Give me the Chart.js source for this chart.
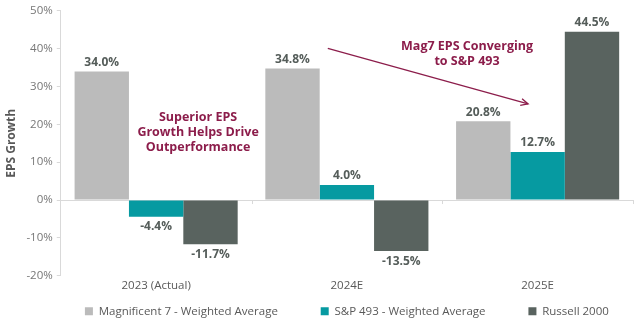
<!DOCTYPE html>
<html>
<head>
<meta charset="utf-8">
<script src="https://cdn.jsdelivr.net/npm/chart.js@4"></script>
<style>
  html, body { margin: 0; padding: 0; background: #fff; }
  #wrap { width: 640px; height: 321px; }
</style>
</head>
<body>
<div id="wrap"><canvas id="epsChart"></canvas></div>
<script>
var years = ["2023 (Actual)", "2024E", "2025E"];
// EPS growth, %
var mag7 = [34.0, 34.8, 20.8];
var sp493 = [-4.4, 4.0, 12.7];
var russell = [-11.7, -13.5, 44.5];
var yTicks = [-20, -10, 0, 10, 20, 30, 40, 50];

var FONT = "'Open Sans', 'Noto Sans', sans-serif";
var MAROON = "#8c1d4b";

// value labels over / under each bar
var barLabels = {
  id: 'barLabels',
  afterDatasetsDraw: function(chart) {
    var ctx = chart.ctx;
    ctx.save();
    ctx.font = "bold 12px " + FONT;
    ctx.fillStyle = "#555d5a";
    ctx.textAlign = "center";
    chart.data.datasets.forEach(function(ds, i) {
      chart.getDatasetMeta(i).data.forEach(function(bar, j) {
        var v = ds.data[j];
        var txt = v.toFixed(1) + "%";
        if (v >= 0) {
          ctx.textBaseline = "bottom";
          ctx.fillText(txt, bar.x, bar.y - 3);
        } else {
          ctx.textBaseline = "top";
          ctx.fillText(txt, bar.x, bar.y + 4);
        }
      });
    });
    ctx.restore();
  }
};

// zero line ticks + callouts
var callouts = {
  id: 'callouts',
  afterDraw: function(chart) {
    var ctx = chart.ctx;
    var x = chart.scales.x, y = chart.scales.y;
    var y0 = y.getPixelForValue(0);
    ctx.save();
    ctx.strokeStyle = "#d9d9d9";
    ctx.lineWidth = 1;
    for (var k = 1; k <= years.length; k++) {
      var px = Math.round(x.getPixelForValue(k - 0.5)) + 0.5;
      ctx.beginPath();
      ctx.moveTo(px, y0);
      ctx.lineTo(px, y0 + 4);
      ctx.stroke();
    }

    ctx.fillStyle = MAROON;
    ctx.font = "bold 12.5px " + FONT;
    ctx.textAlign = "center";
    ctx.textBaseline = "middle";
    var cx = x.getPixelForValue(0.22), cy = y.getPixelForValue(18);
    ["Superior EPS", "Growth Helps Drive", "Outperformance"].forEach(function(t, i) {
      ctx.fillText(t, cx, cy + (i - 1) * 15);
    });
    cx = x.getPixelForValue(1.63); cy = y.getPixelForValue(38.6);
    ["Mag7 EPS Converging", "to S&P 493"].forEach(function(t, i) {
      ctx.fillText(t, cx, cy + (i - 0.5) * 15);
    });

    // arrow
    var x1 = x.getPixelForValue(0.90), y1 = y.getPixelForValue(40.1);
    var x2 = x.getPixelForValue(1.95), y2 = y.getPixelForValue(25.4);
    ctx.strokeStyle = MAROON;
    ctx.lineWidth = 1.3;
    ctx.beginPath();
    ctx.moveTo(x1, y1);
    ctx.lineTo(x2, y2);
    ctx.stroke();
    var a = Math.atan2(y2 - y1, x2 - x1), h = 8;
    ctx.beginPath();
    ctx.moveTo(x2 - h * Math.cos(a - 0.45), y2 - h * Math.sin(a - 0.45));
    ctx.lineTo(x2, y2);
    ctx.lineTo(x2 - h * Math.cos(a + 0.45), y2 - h * Math.sin(a + 0.45));
    ctx.stroke();
    ctx.restore();
  }
};

var ctx = document.getElementById("epsChart");
var epsChart = new Chart(ctx, {
  type: 'bar',
  data: {
    labels: years,
    datasets: [
      { label: "Magnificent 7 - Weighted Average", data: mag7, backgroundColor: "#bbbbbb" },
      { label: "S&P 493 - Weighted Average", data: sp493, backgroundColor: "#069aa1" },
      { label: "Russell 2000", data: russell, backgroundColor: "#59635f" }
    ]
  },
  options: {
    responsive: true,
    maintainAspectRatio: false,
    animation: false,
    devicePixelRatio: 1,
    layout: { padding: { top: 3, right: 7, left: 4, bottom: -6 } },
    datasets: { bar: { barPercentage: 1.0, categoryPercentage: 0.855 } },
    plugins: {
      legend: {
        position: 'bottom',
        fullSize: false,
        labels: {
          boxWidth: 8, boxHeight: 8, padding: 10,
          color: "#595959",
          font: { family: FONT, size: 11.5 },
          generateLabels: function(chart) {
            var items = Chart.defaults.plugins.legend.labels.generateLabels(chart);
            // extra room between legend entries
            items.forEach(function(it, i) {
              if (i < items.length - 1) it.text = it.text + "           ";
            });
            return items;
          }
        }
      },
      tooltip: { enabled: false }
    },
    scales: {
      x: {
        grid: { display: false, drawTicks: false },
        border: { display: false },
        ticks: { color: "#595959", font: { family: FONT, size: 11.5 }, padding: 3 }
      },
      y: {
        min: -20, max: 50,
        afterBuildTicks: function(s) { s.ticks = yTicks.map(function(v) { return { value: v }; }); },
        ticks: {
          color: "#777777",
          font: { family: FONT, size: 11.5 },
          padding: 4,
          callback: function(v) { return v + "%"; }
        },
        grid: {
          tickLength: 4,
          tickColor: "#d9d9d9",
          color: function(c) { return c.tick && c.tick.value === 0 ? "#d9d9d9" : "rgba(0,0,0,0)"; }
        },
        border: { color: "#d9d9d9" },
        title: {
          display: true,
          text: "EPS Growth",
          color: "#595959",
          font: { family: FONT, size: 12, weight: 'bold' },
          padding: { top: 0, bottom: 4 }
        }
      }
    }
  },
  plugins: [barLabels, callouts]
});
</script>
</body>
</html>
